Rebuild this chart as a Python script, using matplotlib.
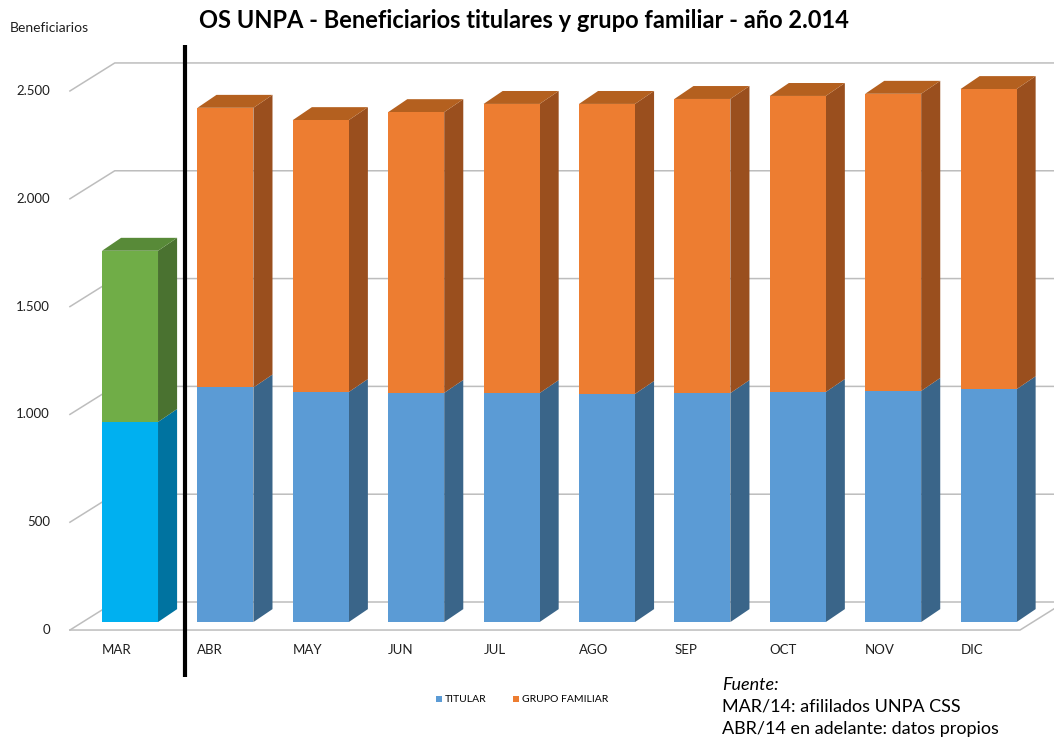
import numpy as np
import matplotlib.pyplot as plt
from matplotlib.patches import Polygon

plt.rcParams['font.family'] = ['Lato', 'DejaVu Sans']

meses = ['MAR', 'ABR', 'MAY', 'JUN', 'JUL', 'AGO', 'SEP', 'OCT', 'NOV', 'DIC']
titular = np.array([928, 1088, 1067, 1063, 1062, 1058, 1062, 1067, 1072, 1080])
total = np.array([1722, 2385, 2328, 2365, 2403, 2403, 2426, 2440, 2450, 2472])
grupo = total - titular
ticks = [0, 500, 1000, 1500, 2000, 2500]
tick_labels = ['0', '500', '1.000', '1.500', '2.000', '2.500']

# colores: MAR (afiliados UNPA CSS) distinto del resto
front_tit = ['#00B0F0'] + ['#5B9BD5'] * 9
side_tit = ['#0073A0'] + ['#3A6589'] * 9
front_gru = ['#70AD47'] + ['#ED7D31'] * 9
side_gru = ['#4A7230'] + ['#9A4F1E'] * 9
top_gru = ['#588A38'] + ['#B4601F'] * 9

fig = plt.figure(figsize=(10.54, 7.4), dpi=100)
ax = fig.add_axes([0, 0, 1, 1])
ax.set_xlim(-1.363, 9.686)
ax.set_ylim(-547, 2885)
ax.axis('off')

# pseudo 3D geometry (category units / value units)
w = 0.587
ddx, ddy = 0.2, 60          # bar depth
fx, fy = -0.63, -37         # floor front-left corner
bx, by = -0.16, 93          # back wall left corner
x_right = 9.33

grid_c = '#BDBDBD'
for v in ticks:
    ax.plot([fx, bx, 10.5], [v + fy, v + by, v + by], color=grid_c, lw=1.1, zorder=1)
ax.plot([fx, x_right, x_right + (bx - fx)], [fy, fy, by], color=grid_c, lw=1.1, zorder=1)

x = np.arange(len(meses))


def side_face(xc, b, h, color):
    xr = xc + w / 2
    ax.add_patch(Polygon([(xr, b), (xr + ddx, b + ddy), (xr + ddx, b + h + ddy), (xr, b + h)],
                         closed=True, facecolor=color, edgecolor='none', zorder=3))


def top_face(xc, t, color):
    xl, xr = xc - w / 2, xc + w / 2
    ax.add_patch(Polygon([(xl, t), (xl + ddx, t + ddy), (xr + ddx, t + ddy), (xr, t)],
                         closed=True, facecolor=color, edgecolor='none', zorder=3))


b1 = ax.bar(x, titular, width=w, color=front_tit, zorder=4, label='TITULAR')
b2 = ax.bar(x, grupo, bottom=titular, width=w, color=front_gru, zorder=4, label='GRUPO FAMILIAR')
for i in x:
    side_face(i, 0, titular[i], side_tit[i])
    side_face(i, titular[i], grupo[i], side_gru[i])
    top_face(i, total[i], top_gru[i])

for v, t in zip(ticks, tick_labels):
    ax.text(-0.84, v + fy, t, ha='right', va='center', fontsize=9.5, color='#1f1f1f')
for i, m in enumerate(meses):
    ax.text(i - w / 2, -130, m, ha='left', va='center', fontsize=9.5, color='#1f1f1f')

ax.plot([0.58, 0.58], [-255, 2676], color='black', lw=3, zorder=6, solid_capstyle='butt')

fig.text(0.497, 1 - 21 / 740, 'OS UNPA - Beneficiarios titulares y grupo familiar - año 2.014',
         ha='center', va='center', fontsize=17, fontweight='bold')
fig.text(10 / 1054, 1 - 28 / 740, 'Beneficiarios', ha='left', va='center', fontsize=10, color='#1f1f1f')

fig.legend([b1[1], b2[1]], ['TITULAR', 'GRUPO FAMILIAR'], loc='center',
           bbox_to_anchor=(522 / 1054, 1 - 700 / 740), ncol=2, frameon=False, fontsize=7.5,
           handlelength=0.6, handleheight=0.6, handletextpad=0.3, columnspacing=2.5)

fig.text(722 / 1054, 1 - 685 / 740, 'Fuente:', ha='left', va='center', fontsize=13, style='italic')
fig.text(722 / 1054, 1 - 706 / 740, 'MAR/14: afililados UNPA CSS', ha='left', va='center', fontsize=13)
fig.text(722 / 1054, 1 - 729 / 740, 'ABR/14 en adelante: datos propios', ha='left', va='center', fontsize=13)

fig.savefig('out.png', dpi=100)
